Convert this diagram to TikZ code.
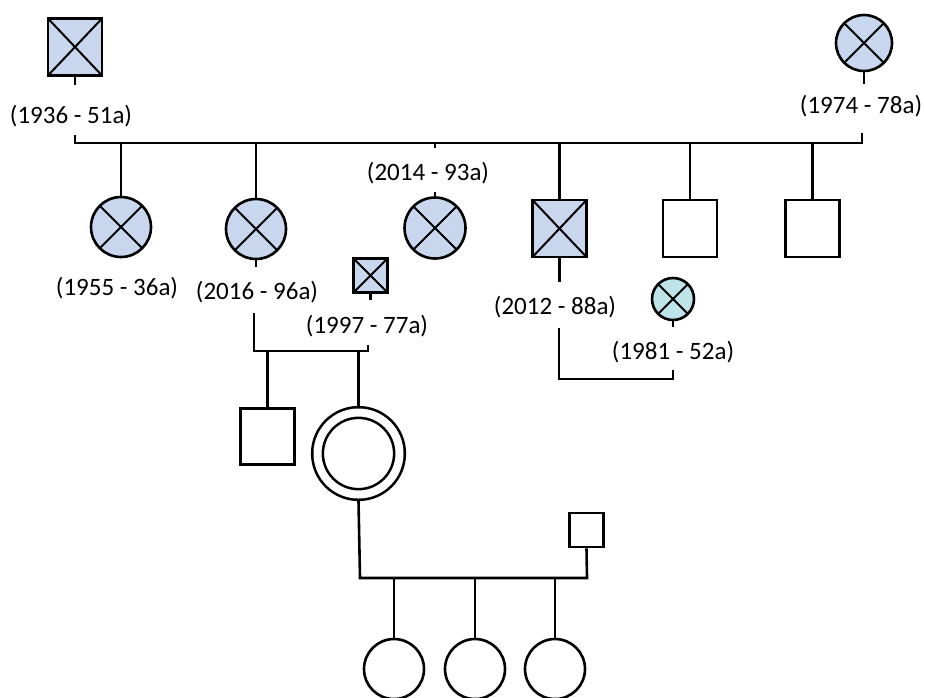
\documentclass[tikz,border=0pt]{standalone}
\usepackage{fontspec}
\setmainfont{Carlito}
\definecolor{aff}{HTML}{C8D7EE}
\definecolor{afftwo}{HTML}{BEE3E8}
\begin{document}
\begin{tikzpicture}[x=1pt,y=-1pt, line width=2.6pt,
  sq/.style={draw, rectangle, minimum width=54pt, minimum height=57pt, inner sep=0pt, fill=white},
  smallsq/.style={draw, rectangle, minimum width=34pt, minimum height=34pt, inner sep=0pt, fill=white},
  ci/.style={draw, circle, minimum size=60pt, inner sep=0pt, fill=white},
  crossed/.style={path picture={\draw[line width=2pt]
      (path picture bounding box.north west) -- (path picture bounding box.south east)
      (path picture bounding box.south west) -- (path picture bounding box.north east);}},
  affx/.style={fill=aff, crossed},
  lbl/.style={font=\fontsize{25}{30}\selectfont, inner sep=0pt}]
\useasboundingbox (0,0) rectangle (925,697);

% generation I
\node[sq, affx] (gf) at (75,47) {};
\node[ci, affx, minimum size=56pt] (gm) at (864,43) {};
\node[lbl] (gfl) at (71,116) {(1936 - 51a)};
\node[lbl] (gml) at (861,106) {(1974 - 78a)};
\draw (gf.south) -- ++(0,8);
\draw (gm.south) -- ++(0,12);
\coordinate (mL) at (75,143);
\coordinate (mR) at (862,143);
\draw (mL) ++(0,-8) -- (mL) -- (mR) -- ++(0,-10);

% generation II
\node[ci, affx] (c1) at (121,227) {};
\node[ci, affx] (c2) at (256,229) {};
\node[ci, affx, minimum size=61pt] (c3) at (435,228) {};
\node[sq, affx] (c4) at (559.5,228.5) {};
\node[sq] (c5) at (690,228.5) {};
\node[sq] (c6) at (812.5,228.5) {};
\node[smallsq, affx] (sp1) at (370.5,275.5) {};
\node[ci, fill=afftwo, crossed, minimum size=42pt] (sp2) at (673,299) {};

\node[lbl] (c1l) at (117,288) {(1955 - 36a)};
\node[lbl] (c2l) at (257,292) {(2016 - 96a)};
\node[lbl] (c3l) at (428,173) {(2014 - 93a)};
\node[lbl] (sp1l) at (367,326) {(1997 - 77a)};
\node[lbl] (c4l) at (555,307) {(2012 - 88a)};
\node[lbl] (sp2l) at (673,352) {(1981 - 52a)};

\draw (c1 |- mL) -- (c1.north);
\draw (c2 |- mL) -- (c2.north);
\draw (c3 |- mL) -- ++(0,5);
\draw (c3.north) -- ++(0,-4);
\draw (c4 |- mL) -- (c4.north);
\draw (c5 |- mL) -- (c5.north);
\draw (c6 |- mL) -- (c6.north);

% couple 2016 + 1997
\draw (c2.south) -- ++(0,7);
\draw (sp1.south) -- ++(0,6);
\coordinate (m2L) at (254,351);
\coordinate (m2R) at (368,351);
\draw (m2L) ++(0,-38) -- (m2L) -- (m2R) -- ++(0,-6);

% couple 2012 + 1981
\draw (c4.south) -- ++(0,24);
\draw (sp2.south) -- ++(0,6);
\coordinate (m3L) at (559,379);
\coordinate (m3R) at (673,379);
\draw (m3L) ++(0,-51) -- (m3L) -- (m3R) -- ++(0,-9);

% generation III
\node[sq, minimum height=56pt] (gc1) at (267.5,436.5) {};
\node[draw, circle, minimum size=82pt, inner sep=0pt, double=white, double distance=8pt] (gc2) at (358.5,453.5) {};
\draw (gc1 |- m2L) -- (gc1.north);
\draw (gc2 |- m2L) -- ([yshift=5.3pt]gc2.north);

% couple gc2 + partner
\node[smallsq] (sp3) at (586.5,530) {};
\coordinate (m4L) at (360,578);
\coordinate (m4R) at (587,578);
\draw ([yshift=-5.3pt]gc2.south) -- (m4L) -- (m4R) -- (sp3.south);

% generation IV
\node[ci] (g1) at (394,669) {};
\node[ci] (g2) at (475,669) {};
\node[ci] (g3) at (555,669) {};
\draw (g1 |- m4L) -- (g1.north);
\draw (g2 |- m4L) -- (g2.north);
\draw (g3 |- m4L) -- (g3.north);
\end{tikzpicture}
\end{document}
